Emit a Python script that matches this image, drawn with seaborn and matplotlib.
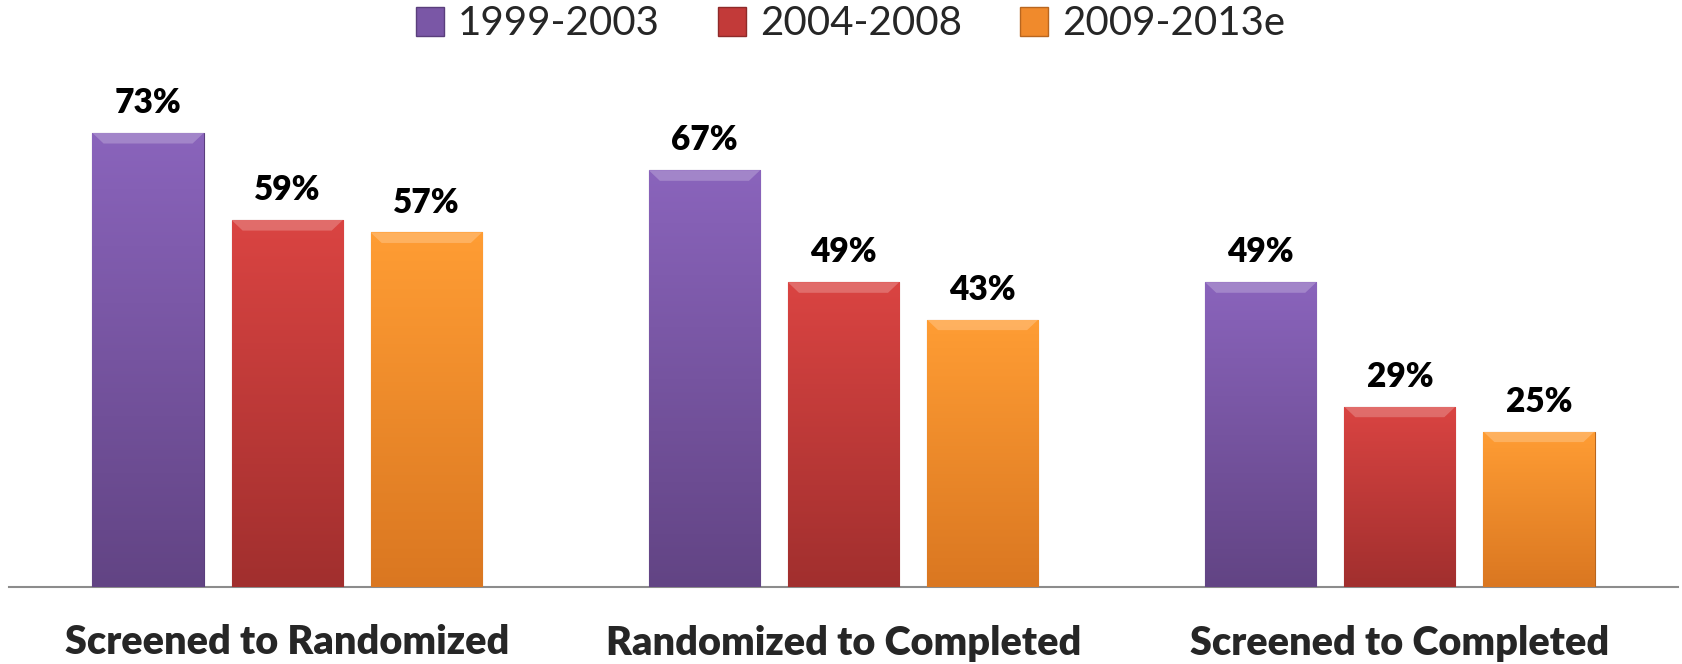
import matplotlib
matplotlib.use("Agg")
import matplotlib.pyplot as plt
import seaborn as sns
import pandas as pd
import numpy as np
from matplotlib.colors import LinearSegmentedColormap
from matplotlib.patches import Patch, Polygon

# data
stages = ["Screened to Randomized", "Randomized to Completed", "Screened to Completed"]
periods = ["1999-2003", "2004-2008", "2009-2013e"]
p_1999_2003 = [73, 67, 49]
p_2004_2008 = [59, 49, 29]
p_2009_2013e = [57, 43, 25]

colors = ["#7A57A6", "#C23A39", "#F08A2C"]
top_colors = ["#8A64BC", "#DA4442", "#FF9D34"]
bottom_colors = ["#624484", "#A12F2E", "#DA7721"]
edge_colors = ["#5A3E7C", "#8E2A29", "#B8661F"]

df = pd.DataFrame({
    "stage": stages * 3,
    "period": np.repeat(periods, 3),
    "value": p_1999_2003 + p_2004_2008 + p_2009_2013e,
})

sns.set_style("white")
plt.rcParams["font.family"] = ["Lato", "DejaVu Sans"]

fig = plt.figure(figsize=(16.83, 6.64), dpi=100)
ax = fig.add_axes([9 / 1683, 77 / 664, 1669 / 1683, 497.6 / 664])

sns.barplot(data=df, x="stage", y="value", hue="period", palette=colors,
            width=0.75, gap=0.2, saturation=1, legend=False, ax=ax)

ax.set_xlim(-0.5, 2.5)
ax.set_ylim(0, 80)

# vertical gradient on every bar, clipped to the bar shape, plus a light top bevel
grad = np.linspace(0, 1, 256).reshape(-1, 1)
dx, dy = 0.02, 1.7
for i, cont in enumerate(ax.containers):
    cmap = LinearSegmentedColormap.from_list("g%d" % i, [bottom_colors[i], top_colors[i]])
    for bar in cont:
        bar.set_edgecolor(edge_colors[i])
        bar.set_linewidth(0.8)
        x0, w, h = bar.get_x(), bar.get_width(), bar.get_height()
        z = bar.get_zorder()
        im = ax.imshow(grad, cmap=cmap, origin="lower", aspect="auto",
                       extent=[x0, x0 + w, 0, h], zorder=z + 0.1)
        im.set_clip_path(bar)
        bevel = Polygon([(x0, h), (x0 + w, h), (x0 + w - dx, h - dy), (x0 + dx, h - dy)],
                        closed=True, facecolor="white", alpha=0.22,
                        edgecolor="none", zorder=z + 0.2)
        ax.add_patch(bevel)
    ax.bar_label(cont, fmt="{:.0f}%", padding=10, fontsize=24,
                 fontweight="heavy", color="black")

ax.set_xlim(-0.5, 2.5)
ax.set_ylim(0, 80)

ax.set_xlabel("")
ax.set_ylabel("")
ax.set_yticks([])
ax.tick_params(axis="x", length=0, pad=27)
for lab in ax.get_xticklabels():
    lab.set_fontsize(28.5)
    lab.set_fontweight("heavy")
for s in ["left", "top", "right"]:
    ax.spines[s].set_visible(False)
ax.spines["bottom"].set_color("#8C8C8C")
ax.spines["bottom"].set_linewidth(1.5)
ax.spines["bottom"].set_zorder(0)

handles = [Patch(facecolor=colors[i], edgecolor=edge_colors[i]) for i in range(3)]
fig.legend(handles, periods, loc="center", bbox_to_anchor=(0.5054, 0.964),
           ncol=3, frameon=False, prop={"size": 29},
           handlelength=0.7, handleheight=0.72, handletextpad=0.35,
           columnspacing=1.44)

fig.savefig("out.png", dpi=100)
